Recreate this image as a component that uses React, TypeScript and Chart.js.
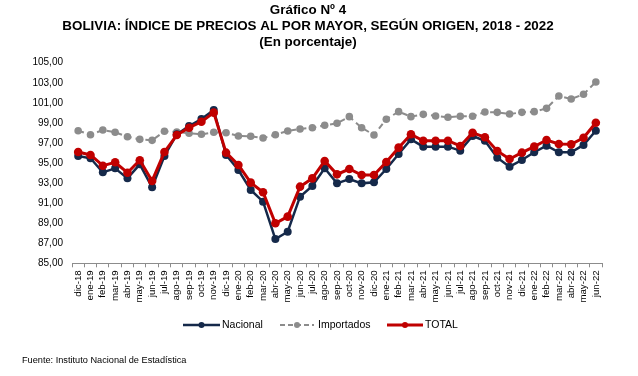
import React, { useEffect, useRef } from "react";
import { Chart, registerables } from "chart.js";

Chart.register(...registerables);

const labels = [
  "dic-18",
  "ene-19", "feb-19", "mar-19", "abr-19", "may-19", "jun-19", "jul-19", "ago-19", "sep-19", "oct-19", "nov-19", "dic-19",
  "ene-20", "feb-20", "mar-20", "abr-20", "may-20", "jun-20", "jul-20", "ago-20", "sep-20", "oct-20", "nov-20", "dic-20",
  "ene-21", "feb-21", "mar-21", "abr-21", "may-21", "jun-21", "jul-21", "ago-21", "sep-21", "oct-21", "nov-21", "dic-21",
  "ene-22", "feb-22", "mar-22", "abr-22", "may-22", "jun-22",
];

const nacional = [
  95.70, 95.47, 94.07, 94.47, 93.47, 94.87, 92.58, 95.70, 97.86, 98.69, 99.39, 100.28, 95.80,
  94.30, 92.31, 91.14, 87.42, 88.15, 91.64, 92.71, 94.47, 92.97, 93.40, 92.97, 93.07,
  94.40, 95.90, 97.36, 96.63, 96.63, 96.63, 96.23, 97.69, 97.22, 95.53, 94.63, 95.30,
  96.07, 96.73, 96.07, 96.07, 96.80, 98.22,
];

const importados = [
  98.22, 97.82, 98.29, 98.06, 97.62, 97.36, 97.26, 98.16, 98.09, 97.96, 97.86, 98.06, 98.02,
  97.69, 97.66, 97.49, 97.82, 98.19, 98.39, 98.52, 98.76, 98.96, 99.62, 98.52, 97.79,
  99.36, 100.12, 99.62, 99.85, 99.69, 99.56, 99.66, 99.66, 100.08, 100.05, 99.89, 100.05,
  100.12, 100.45, 101.68, 101.38, 101.85, 103.08,
];

const total = [
  96.10, 95.80, 94.73, 95.07, 94.03, 95.27, 93.21, 96.10, 97.79, 98.52, 99.12, 100.02, 96.03,
  94.80, 93.04, 92.08, 88.99, 89.65, 92.64, 93.47, 95.20, 93.87, 94.40, 93.80, 93.80,
  95.10, 96.53, 97.86, 97.22, 97.22, 97.22, 96.70, 98.02, 97.56, 96.20, 95.40, 96.03,
  96.63, 97.29, 96.89, 96.86, 97.52, 99.02,
];

const titleLines = [
  "Gráfico Nº 4",
  "BOLIVIA: ÍNDICE DE PRECIOS AL POR MAYOR, SEGÚN ORIGEN, 2018 - 2022",
  "(En porcentaje)",
];
const seriesNames = ["Nacional", "Importados", "TOTAL"];
const sourceNote = "Fuente: Instituto Nacional de Estadística";

const NAVY = "#15294A";
const GREY = "#8C8C8C";
const RED = "#C00000";
const FONT = "'Liberation Sans', Arial, sans-serif";

const overlayPlugin = {
  id: "overlay",
  afterDraw(chart: any) {
    const ctx = chart.ctx;
    ctx.save();
    // Title
    ctx.fillStyle = "#000";
    ctx.textAlign = "center";
    ctx.textBaseline = "middle";
    ctx.font = `bold 13.4px ${FONT}`;
    const ty = [10.5, 26, 42];
    titleLines.forEach((t, i) => ctx.fillText(t, 308, ty[i]));

    // Legend
    const ly = 325;
    const items = [
      { x0: 183, x1: 220, color: NAVY, dash: [], w: 2.5, r: 3, tx: 222 },
      { x0: 280, x1: 314, color: GREY, dash: [5, 3], w: 2, r: 3, tx: 318 },
      { x0: 387, x1: 423, color: RED, dash: [], w: 3, r: 3, tx: 425 },
    ];
    items.forEach((it, i) => {
      ctx.strokeStyle = it.color;
      ctx.lineWidth = it.w;
      ctx.setLineDash(it.dash);
      ctx.beginPath();
      ctx.moveTo(it.x0, ly);
      ctx.lineTo(it.x1, ly);
      ctx.stroke();
      ctx.setLineDash([]);
      ctx.fillStyle = it.color;
      ctx.beginPath();
      ctx.arc((it.x0 + it.x1) / 2, ly, it.r, 0, Math.PI * 2);
      ctx.fill();
      ctx.fillStyle = "#000";
      ctx.textAlign = "left";
      ctx.font = `10.5px ${FONT}`;
      ctx.fillText(seriesNames[i], it.tx, ly + 0.5);
    });

    // Source note
    ctx.font = `9.2px ${FONT}`;
    ctx.textAlign = "left";
    ctx.fillStyle = "#000";
    ctx.fillText(sourceNote, 22, 360);
    ctx.restore();
  },
};

export default function App() {
  const ref = useRef<HTMLCanvasElement | null>(null);

  useEffect(() => {
    if (!ref.current) return;
    const chart = new Chart(ref.current, {
      type: "line",
      data: {
        labels,
        datasets: [
          {
            label: seriesNames[0],
            data: nacional,
            borderColor: NAVY,
            backgroundColor: NAVY,
            borderWidth: 2.5,
            pointRadius: 4,
            pointBackgroundColor: NAVY,
            pointBorderWidth: 0,
            tension: 0,
            order: 1,
          },
          {
            label: seriesNames[1],
            data: importados,
            borderColor: GREY,
            backgroundColor: GREY,
            borderWidth: 2,
            borderDash: [6, 4],
            pointRadius: 3.8,
            pointBackgroundColor: GREY,
            pointBorderWidth: 0,
            tension: 0,
            order: 2,
          },
          {
            label: seriesNames[2],
            data: total,
            borderColor: RED,
            backgroundColor: RED,
            borderWidth: 3,
            pointRadius: 4.3,
            pointBackgroundColor: RED,
            pointBorderWidth: 0,
            tension: 0,
            order: 0,
          },
        ],
      },
      options: {
        animation: false,
        responsive: true,
        maintainAspectRatio: false,
        layout: { padding: { top: 62.7, right: 36, bottom: 52.7, left: 0 } },
        plugins: {
          legend: { display: false },
          title: { display: false },
          tooltip: { enabled: false },
        },
        scales: {
          x: {
            type: "category",
            offset: true,
            afterFit: (s: any) => {
              s.height = 60;
            },
            grid: {
              display: true,
              drawOnChartArea: false,
              drawTicks: true,
              tickLength: 4,
              color: "#8C8C8C",
              offset: true,
            },
            border: { display: true, color: "#8C8C8C", width: 1 },
            ticks: {
              autoSkip: false,
              maxRotation: 90,
              minRotation: 90,
              padding: 3,
              color: "#000",
              font: { family: FONT, size: 9.7 },
            },
          },
          y: {
            min: 85,
            max: 105,
            afterFit: (s: any) => {
              s.width = 72;
            },
            grid: { display: false, drawTicks: false },
            border: { display: false },
            ticks: {
              stepSize: 2,
              padding: 9,
              color: "#000",
              font: { family: FONT, size: 10 },
              callback: (v: any) => Number(v).toFixed(2).replace(".", ","),
            },
          },
        },
      },
      plugins: [overlayPlugin],
    });
    return () => chart.destroy();
  }, []);

  return (
    <div style={{ position: "absolute", left: 0, top: 0, width: 638, height: 376, background: "#fff" }}>
      <canvas ref={ref} />
    </div>
  );
}
